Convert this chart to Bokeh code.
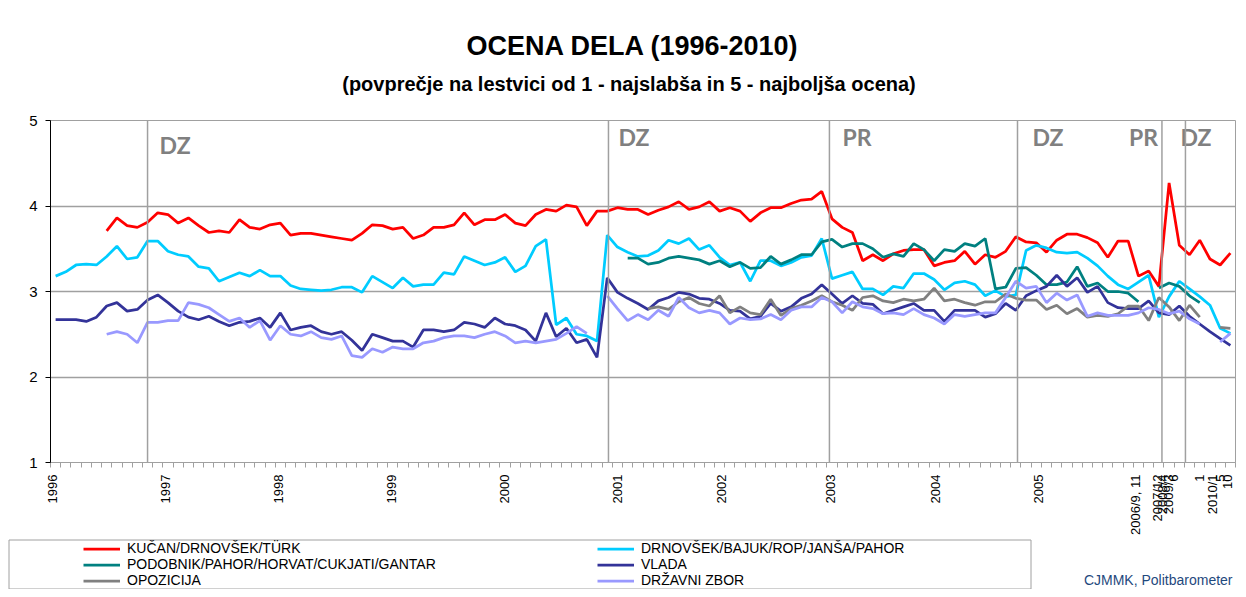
import math
import numpy as np
from bokeh.plotting import figure
from bokeh.layouts import column
from bokeh.models import (Range1d, FixedTicker, Span, Legend, LegendItem, Label,
                          ColumnDataSource)
from bokeh.embed import file_html
from bokeh.resources import INLINE
from bokeh.core.properties import value

# ---------------- data (one category per survey, 116 surveys 1996-2010) ----------------
chart_title = "OCENA DELA (1996-2010)"
chart_subtitle = "(povprečje na lestvici od 1 - najslabša in 5 - najboljša ocena)"
source_note = "CJMMK, Politbarometer"

series_names = [
    "KUČAN/DRNOVŠEK/TÜRK",
    "DRNOVŠEK/BAJUK/ROP/JANŠA/PAHOR",
    "PODOBNIK/PAHOR/HORVAT/CUKJATI/GANTAR",
    "VLADA",
    "OPOZICIJA",
    "DRŽAVNI ZBOR",
]
series_colors = ["#FF0000", "#00CCFF", "#008080", "#333399", "#808080", "#9999FF"]

kucan = [None, None, None, None, None,
         3.71, 3.86, 3.77, 3.75, 3.81, 3.92, 3.90, 3.80, 3.86, 3.77,
         3.69, 3.71, 3.69, 3.84, 3.75, 3.73, 3.78, 3.80, 3.66, 3.68,
         3.68, 3.66, 3.64, 3.62, 3.60, 3.68, 3.78, 3.77, 3.73, 3.75,
         3.62, 3.66, 3.75, 3.75, 3.78, 3.92, 3.78, 3.84, 3.84, 3.90,
         3.80, 3.77, 3.90, 3.96, 3.94, 4.01, 3.99, 3.77, 3.94, 3.94,
         3.98, 3.96, 3.96, 3.90, 3.95, 3.99, 4.05, 3.96, 3.99, 4.05,
         3.94, 3.98, 3.94, 3.82, 3.92, 3.98, 3.98, 4.03, 4.07, 4.08,
         4.17, 3.85, 3.75, 3.69, 3.36, 3.43, 3.36, 3.44, 3.48, 3.49,
         3.49, 3.30, 3.34, 3.36, 3.47, 3.32, 3.43, 3.40, 3.47, 3.64,
         3.58, 3.57, 3.46, 3.60, 3.67, 3.67, 3.63, 3.57, 3.40, 3.59,
         3.59, 3.18, 3.24, 3.06, 4.27, 3.54, 3.43, 3.60, 3.38, 3.31, 3.45]

drnovsek = [3.18, 3.23, 3.31, 3.32, 3.31, 3.41, 3.53, 3.38, 3.40, 3.59,
            3.59, 3.47, 3.43, 3.41, 3.29, 3.27, 3.12, 3.17, 3.22, 3.18,
            3.25, 3.18, 3.18, 3.07, 3.03, 3.02, 3.01, 3.02, 3.05, 3.05,
            2.99, 3.18, 3.11, 3.04, 3.16, 3.06, 3.08, 3.08, 3.22, 3.20,
            3.41, 3.36, 3.31, 3.34, 3.40, 3.23, 3.30, 3.53, 3.61, 2.61,
            2.69, 2.50, 2.48, 2.42, 3.66, 3.52, 3.46, 3.41, 3.42, 3.48,
            3.60, 3.56, 3.62, 3.49, 3.54, 3.40, 3.31, 3.34, 3.12, 3.36,
            3.36, 3.30, 3.34, 3.40, 3.42, 3.62, 3.15, 3.19, 3.23, 3.03,
            3.03, 2.96, 3.06, 3.04, 3.21, 3.21, 3.14, 3.02, 3.10, 3.12,
            3.08, 2.95, 3.01, 2.94, 2.96, 3.48, 3.54, 3.51, 3.46, 3.45,
            3.46, 3.39, 3.30, 3.18, 3.08, 3.03, 3.11, 3.19, 2.70, 2.94,
            3.12, 3.03, 2.94, 2.84, 2.57, 2.51]

podobnik = [None] * 56 + [
    3.39, 3.39, 3.32, 3.34, 3.39, 3.41, 3.39, 3.37, 3.32, 3.36,
    3.29, 3.34, 3.27, 3.28, 3.41, 3.32, 3.37, 3.43, 3.43, 3.58,
    3.61, 3.52, 3.56, 3.56, 3.50, 3.40, 3.44, 3.41, 3.56, 3.49,
    3.36, 3.49, 3.47, 3.56, 3.53, 3.62, 3.03, 3.05, 3.27, 3.28,
    3.19, 3.08, 3.08, 3.11, 3.29, 3.06, 3.10, 3.00, 3.00, 2.98,
    2.88, None, 3.04, 3.10, 3.06, 2.95, 2.87, None, None, None]

vlada = [2.67, 2.67, 2.67, 2.65, 2.70, 2.83, 2.87, 2.77, 2.79, 2.90,
         2.96, 2.87, 2.77, 2.70, 2.67, 2.71, 2.65, 2.60, 2.64, 2.65,
         2.69, 2.58, 2.75, 2.55, 2.58, 2.60, 2.53, 2.50, 2.53, 2.43,
         2.31, 2.50, 2.46, 2.42, 2.42, 2.35, 2.55, 2.55, 2.53, 2.55,
         2.64, 2.62, 2.58, 2.69, 2.62, 2.60, 2.55, 2.42, 2.75, 2.47,
         2.57, 2.40, 2.44, 2.23, 3.16, 2.99, 2.92, 2.86, 2.79, 2.89,
         2.93, 2.99, 2.97, 2.92, 2.91, 2.86, 2.78, 2.77, 2.68, 2.71,
         2.86, 2.77, 2.82, 2.92, 2.97, 3.08, 2.97, 2.86, 2.95, 2.86,
         2.85, 2.74, 2.78, 2.82, 2.86, 2.78, 2.78, 2.65, 2.78, 2.78,
         2.78, 2.70, 2.74, 2.86, 2.78, 2.95, 3.01, 3.06, 3.19, 3.06,
         3.16, 2.99, 3.06, 2.87, 2.81, 2.80, 2.80, 2.89, 2.75, 2.73,
         2.83, 2.71, 2.62, 2.53, 2.45, 2.37]

opozicija = [None] * 58 + [
    2.80, 2.82,
    2.79, 2.88, 2.93, 2.86, 2.83, 2.95, 2.75, 2.82, 2.75, 2.73,
    2.91, 2.72, 2.80, 2.84, 2.89, 2.95, 2.88, 2.84, 2.78, 2.93,
    2.95, 2.89, 2.87, 2.91, 2.89, 2.91, 3.04, 2.89, 2.91, 2.87,
    2.84, 2.88, 2.88, 2.97, 2.92, 2.90, 2.90, 2.79, 2.84, 2.74,
    2.80, 2.70, 2.72, 2.71, 2.74, 2.83, 2.83, 2.66, 2.93, 2.82,
    2.66, 2.84, 2.70, None, 2.58, 2.57]

drzavni_zbor = [None, None, None, None, None,
                2.50, 2.53, 2.50, 2.40, 2.64,
                2.64, 2.66, 2.66, 2.87, 2.85, 2.81, 2.73, 2.65, 2.69, 2.58,
                2.66, 2.43, 2.60, 2.50, 2.48, 2.53, 2.46, 2.44, 2.48, 2.25,
                2.23, 2.33, 2.29, 2.35, 2.33, 2.33, 2.40, 2.42, 2.46, 2.48,
                2.48, 2.46, 2.50, 2.53, 2.48, 2.40, 2.42, 2.40, 2.42, 2.44,
                2.51, 2.59, 2.51, None, 2.95, 2.80, 2.66, 2.73, 2.67, 2.78,
                2.71, 2.93, 2.81, 2.75, 2.78, 2.75, 2.62, 2.69, 2.67, 2.68,
                2.73, 2.67, 2.78, 2.82, 2.82, 2.93, 2.88, 2.75, 2.88, 2.82,
                2.80, 2.74, 2.75, 2.73, 2.80, 2.73, 2.69, 2.62, 2.73, 2.71,
                2.73, 2.75, 2.75, 2.93, 3.12, 3.04, 3.06, 2.87, 2.98, 2.90,
                2.96, 2.71, 2.75, 2.72, 2.72, 2.72, 2.75, 2.81, 2.79, 2.74,
                2.77, 2.68, 2.62, None, 2.41, 2.51]

# category-axis labels and where they sit (in survey-index units)
tick_labels = ["1996", "1997", "1998", "1999", "2000", "2001", "2002", "2003", "2004",
               "2005", "2006/9, 11", "2007/12", "2008/4", "2009/3", "6", "1", "2010/1",
               "5", "10"]
tick_at = [-0.34, 10.73, 21.8, 32.87, 43.94, 55.0, 65.2, 75.85, 86.13,
           96.21, 105.7, 107.9, 108.4, 108.9, 109.4, 111.97, 113.2, 114.0, 114.7]

# election markers (DZ = parliamentary, PR = presidential)
election_at = [9.0, 54.12, 75.75, 94.16, 108.3, 110.6]
election_labels = ["DZ", "DZ", "PR", "DZ", "PR", "DZ"]

# ---------------------------------------------------------------------------------------
def arr(v):
    return np.array([np.nan if a is None else a for a in v], dtype=float)

all_series = [kucan, drnovsek, podobnik, vlada, opozicija, drzavni_zbor]
n = len(drnovsek)
x = np.arange(n)

FONT = "Liberation Sans"
GRID = "#A0A0A0"
W = 1238
H_TOP = 100
H_MAIN = 438
H_LEG = 51


def strip(height, y0):
    """A plain drawing strip whose data units are page pixels."""
    f = figure(width=W, height=height, output_backend="svg", toolbar_location=None,
               x_range=Range1d(0, W), y_range=Range1d(y0 + height, y0),
               min_border=0, min_border_left=0, min_border_right=0, min_border_top=0,
               min_border_bottom=0, outline_line_color=None, frame_align=False,
               background_fill_color="white", border_fill_color="white")
    f.axis.visible = False
    f.grid.visible = False
    return f


# ---------------- title strip ----------------
tf = strip(H_TOP, 0)
tf.text(x=[632.5], y=[45], text=[chart_title], text_align="center",
        text_baseline="middle", text_font=value(FONT), text_font_size="27px",
        text_font_style="bold", text_color="black")
tf.text(x=[628.5], y=[83], text=[chart_subtitle], text_align="center",
        text_baseline="middle", text_font=value(FONT), text_font_size="20px",
        text_font_style="bold", text_color="black")

# ---------------- main chart ----------------
p = figure(width=W, height=H_MAIN, output_backend="svg", toolbar_location=None,
           x_range=Range1d(-0.5, n - 0.5), y_range=Range1d(1, 5),
           min_border_left=50, min_border_right=3, min_border_top=120 - H_TOP,
           min_border_bottom=H_TOP + H_MAIN - 462, background_fill_color="white",
           border_fill_color="white", outline_line_color=GRID, frame_align=False)

p.xaxis.ticker = FixedTicker(ticks=tick_at, minor_ticks=[i - 0.5 for i in range(n + 1)])
p.xaxis.major_label_overrides = dict(zip(tick_at, tick_labels))
p.xaxis.major_label_orientation = math.pi / 2
p.xaxis.major_tick_out = 0
p.xaxis.major_tick_in = 0
p.xaxis.minor_tick_out = 5
p.xaxis.minor_tick_in = 0
p.xaxis.minor_tick_line_color = GRID
p.xaxis.axis_line_color = GRID
p.xaxis.major_label_standoff = 7
p.xaxis.major_label_text_font = FONT
p.xaxis.major_label_text_font_size = "13px"
p.xaxis.major_label_text_color = "black"

p.yaxis.ticker = FixedTicker(ticks=[1, 2, 3, 4, 5])
p.yaxis.major_tick_out = 5
p.yaxis.major_tick_in = 0
p.yaxis.minor_tick_out = 0
p.yaxis.minor_tick_in = 0
p.yaxis.axis_line_color = "black"
p.yaxis.major_tick_line_color = "black"
p.yaxis.major_label_standoff = 8
p.yaxis.major_label_text_font = FONT
p.yaxis.major_label_text_font_size = "15px"
p.yaxis.major_label_text_color = "black"

p.xgrid.grid_line_color = None
p.ygrid.grid_line_color = GRID
p.ygrid.grid_line_width = 1.5

for pos in election_at:
    p.add_layout(Span(location=pos, dimension="height", line_color=GRID, line_width=1.5))

lab_src = ColumnDataSource(dict(
    x=election_at, text=election_labels,
    y=[4.71, 4.81, 4.81, 4.81, 4.81, 4.81],
    dx=[12, 10, 13, 15, -4, -5],
    align=["left", "left", "left", "left", "right", "left"]))
p.text(x="x", y="y", text="text", source=lab_src, x_offset="dx", text_align="align",
       text_baseline="middle", text_font=value("Lato"), text_font_size="23px",
       text_font_style="bold", text_color="#808080")

for vals, col in zip(all_series, series_colors):
    p.line(x, arr(vals), line_color=col, line_width=2.75)

# ---------------- legend strip ----------------
y_leg = H_TOP + H_MAIN
lf = strip(H_LEG, y_leg)
lf.quad(left=[8.5], right=[1030.5], top=[539.5], bottom=[y_leg + H_LEG - 0.5],
        fill_alpha=0, line_color=GRID, line_width=1)

proxies = [lf.line(x=[0, 1], y=[np.nan, np.nan], line_color=c, line_width=2.75)
           for c in series_colors]
common = dict(padding=0, margin=0, spacing=0, glyph_width=37, glyph_height=15,
              label_height=15, label_standoff=7, label_text_font=FONT,
              label_text_font_size="14px", label_text_color="black",
              border_line_alpha=0, background_fill_alpha=0)
legA = Legend(items=[LegendItem(label=series_names[i], renderers=[proxies[i]])
                     for i in (0, 2, 4)], location=(83, 1), **common)
legB = Legend(items=[LegendItem(label=series_names[i], renderers=[proxies[i]])
                     for i in (1, 3, 5)], location=(597, 1), **common)
lf.add_layout(legA, "center")
lf.add_layout(legB, "center")

lf.add_layout(Label(x=1232, y=579, text=source_note, text_align="right",
                    text_baseline="middle", text_font=FONT, text_font_size="14px",
                    text_color="#1F497D"))

layout = column(tf, p, lf, spacing=0)
open("out.html", "w").write(file_html(layout, INLINE))
